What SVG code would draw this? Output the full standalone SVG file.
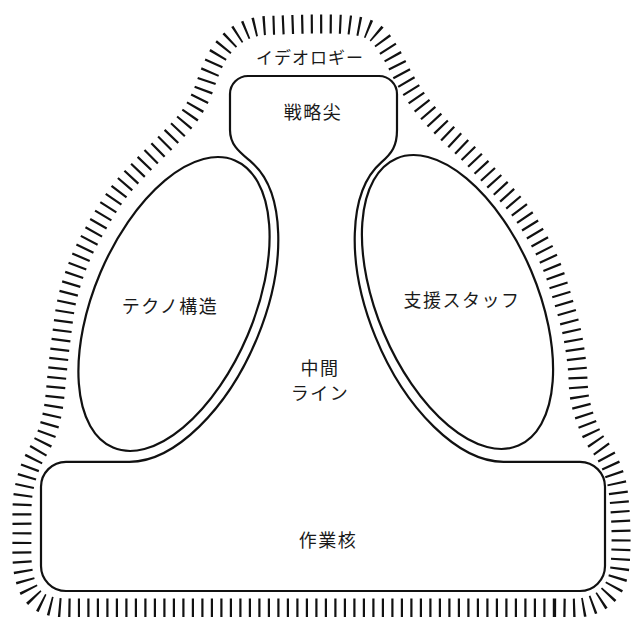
<svg xmlns="http://www.w3.org/2000/svg" width="631" height="617" viewBox="0 0 631 617">
<style>
  .line { fill: none; stroke: #111; stroke-width: 2.2; }
  .hatch { fill: none; stroke: #111; stroke-width: 19; stroke-dasharray: 2.2 7.3; }
  .lbl { font-family: "Noto Sans CJK JP", "Noto Sans", sans-serif; font-size: 18px; fill: #1a1a1a; text-anchor: middle; letter-spacing: 1.5px; }
</style>
<rect width="631" height="617" fill="#fff"/>
<g id="ideology">
  <path class="hatch" d="M555,608 L80,608 C70,608 58,608.2 50,606 S36.5,601 32,595 S24.7,580.8 23,570 S22,542.5 22,530 S21.5,505.8 23,495 S27.3,474.5 31,465 S41.3,447.2 45,438 S51,420.5 53,410 S55.7,386.7 57,375 S59.3,352.5 61,340 S64,313 67,300 S74.2,274 79,262 S89.5,239.5 96,228 S110.2,203.5 118,193 S134.7,173.8 143,165 S160.5,147.8 168,140 S182.5,125.3 188,118 S197.3,103.7 201,96 S206.8,79.3 210,72 S215.8,58 220,52 S229.2,40.2 235,36 S247.5,28.8 255,27 S270,25.5 280,25 S303.3,24 315,24 S340.2,23.7 350,25 S367.3,27.5 374,32 S385,44.3 390,52 S399,69.5 404,78 S413.8,94.8 420,103 S433,118.7 441,127 S459.2,144 468,153 S485.7,171.8 494,181 S510.8,198.7 518,208 S531.3,227.2 537,237 S547.7,256.5 552,267 S559.7,289 563,300 S569.7,322.2 572,333 S575.7,353.8 577,365 S577.7,388.7 580,400 S586.7,423.7 591,433 S601.8,448.2 606,456 S613.7,471 616,480 S619.2,499.2 620,510 S621.3,533.8 621,545 S620.5,568.3 618,577 S611.5,592 606,597 S593.5,605.2 585,607 S565,608 555,608 Z"/>
  <text class="lbl" x="310" y="63.5" style="font-size:17px;letter-spacing:1px">イデオロギー</text>
</g>
<g id="organization-outline">
  <path class="line" d="M248,76 H379 A18,18 0 0 1 397,94 V130 C397,146 391.9,153.2 381.3,162.4 A89,165 -23 0 0 503.55,461.8 H580 A25,25 0 0 1 605,486.8 V566 A25,25 0 0 1 580,591 H66 A25,25 0 0 1 41,566 V486.8 A25,25 0 0 1 66,461.8 H129.45 A89,165 23 0 0 251.7,162.4 C241.1,153.2 230,146 230,130 V94 A18,18 0 0 1 248,76 Z"/>
</g>
<g id="strategic-apex">
  <text class="lbl" x="313" y="119">戦略尖</text>
</g>
<g id="technostructure">
  <ellipse class="line" cx="174" cy="304" rx="80" ry="156" transform="rotate(23 174 304)"/>
  <text class="lbl" x="170" y="313">テクノ構造</text>
</g>
<g id="support-staff">
  <ellipse class="line" cx="457.5" cy="302" rx="80" ry="156" transform="rotate(-23 457.5 302)"/>
  <text class="lbl" x="462" y="307">支援スタッフ</text>
</g>
<g id="middle-line">
  <text class="lbl" x="320" y="375">中間</text>
  <text class="lbl" x="320" y="400">ライン</text>
</g>
<g id="operating-core">
  <text class="lbl" x="328" y="547">作業核</text>
</g>
<g id="connectors"/>
</svg>
